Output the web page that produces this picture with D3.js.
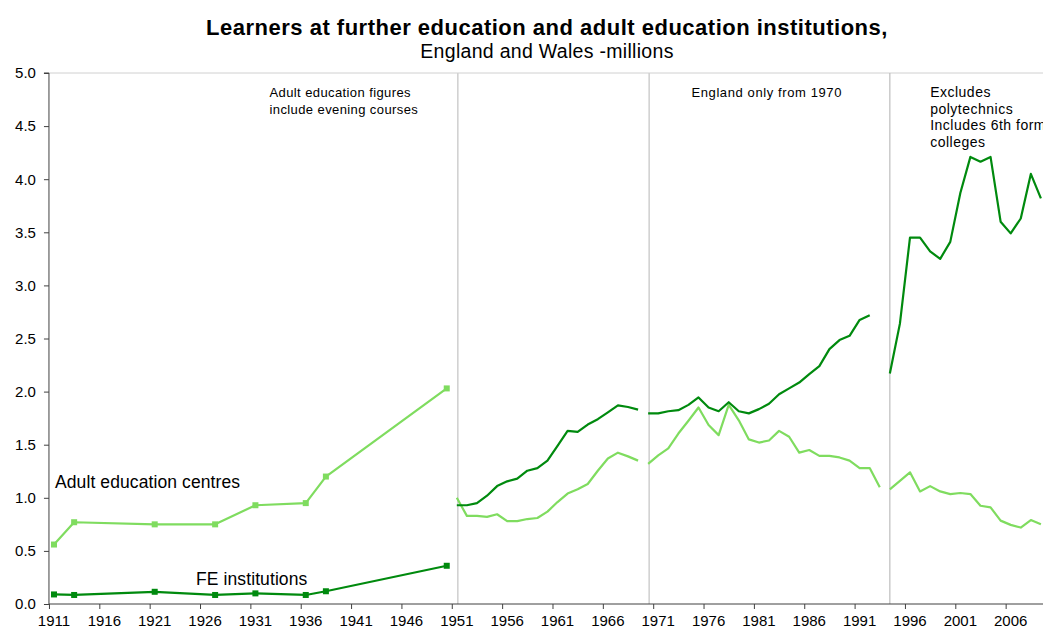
<!DOCTYPE html>
<html>
<head>
<meta charset="utf-8">
<script src="https://cdn.jsdelivr.net/npm/d3@7"></script>
<style>
  body { margin: 0; background: #fff; }
  svg { display: block; font-family: "Liberation Sans", Arial, sans-serif; }
</style>
</head>
<body>
<script>
'use strict';

// segment 1: 1911-1950 (with markers)
const years1 = [1911, 1913, 1921, 1927, 1931, 1936, 1938, 1950];
const adult1 = [0.56, 0.77, 0.75, 0.75, 0.93, 0.95, 1.20, 2.03];
const fe1 = [0.09, 0.085, 0.115, 0.085, 0.10, 0.085, 0.12, 0.36];

// segment 2: 1951-1969
const years2 = [1951, 1952, 1953, 1954, 1955, 1956, 1957, 1958, 1959, 1960,
  1961, 1962, 1963, 1964, 1965, 1966, 1967, 1968, 1969];
const fe2 = [0.93, 0.93, 0.95, 1.02, 1.11, 1.155, 1.18, 1.255, 1.28, 1.35,
  1.49, 1.63, 1.62, 1.69, 1.74, 1.805, 1.87, 1.855, 1.83];
const adult2 = [1.00, 0.83, 0.83, 0.82, 0.845, 0.78, 0.78, 0.80, 0.81, 0.87,
  0.96, 1.04, 1.08, 1.13, 1.255, 1.37, 1.425, 1.39, 1.35];

// segment 3: England only, 1970-1993
const years3 = [1970, 1971, 1972, 1973, 1974, 1975, 1976, 1977, 1978, 1979,
  1980, 1981, 1982, 1983, 1984, 1985, 1986, 1987, 1988, 1989, 1990, 1991, 1992, 1993];
const fe3 = [1.795, 1.795, 1.815, 1.825, 1.875, 1.945, 1.85, 1.815, 1.90, 1.815,
  1.795, 1.835, 1.885, 1.975, 2.03, 2.085, 2.165, 2.24, 2.40, 2.485, 2.525, 2.675, 2.72, null];
const adult3 = [1.32, 1.40, 1.465, 1.605, 1.725, 1.85, 1.685, 1.59, 1.875, 1.73,
  1.55, 1.52, 1.54, 1.63, 1.575, 1.425, 1.45, 1.395, 1.395, 1.38, 1.35, 1.28, 1.28, 1.10];

// segment 4: excludes polytechnics, 1994-2009
const years4 = [1994, 1995, 1996, 1997, 1998, 1999, 2000, 2001, 2002, 2003,
  2004, 2005, 2006, 2007, 2008, 2009];
const fe4 = [2.17, 2.64, 3.45, 3.45, 3.32, 3.25, 3.41, 3.87, 4.21, 4.165,
  4.21, 3.60, 3.49, 3.63, 4.05, 3.82];
const adult4 = [1.08, 1.16, 1.24, 1.06, 1.11, 1.06, 1.035, 1.045, 1.035, 0.925,
  0.91, 0.785, 0.745, 0.72, 0.79, 0.75];

const breakYears = [1951.1, 1970.1, 1994.0];
const labelYears = [1911, 1916, 1921, 1926, 1931, 1936, 1941, 1946, 1951, 1956,
  1961, 1966, 1971, 1976, 1981, 1986, 1991, 1996, 2001, 2006];
const yTicks = [0, 0.5, 1, 1.5, 2, 2.5, 3, 3.5, 4, 4.5, 5];

const darkGreen = '#008a0e';
const lightGreen = '#7fdc5f';

const W = 1043, H = 631;
const svg = d3.select('body').append('svg')
  .attr('width', W)
  .attr('height', H);

// one category per year, labels at category centres
const x = d3.scaleLinear().domain([1911, 2009]).range([54, 1040.9]);
const y = d3.scaleLinear().domain([0, 5]).range([604, 73]);
const left = x(1910.5);

// title
svg.append('text')
  .attr('x', 547).attr('y', 35)
  .attr('text-anchor', 'middle')
  .style('font-size', '22px')
  .style('font-weight', 'bold')
  .style('letter-spacing', '0.5px')
  .text('Learners at further education and adult education institutions,');
svg.append('text')
  .attr('x', 547).attr('y', 58)
  .attr('text-anchor', 'middle')
  .style('font-size', '19.5px')
  .style('letter-spacing', '0.3px')
  .text('England and Wales -millions');

// top border of plot area
svg.append('line')
  .attr('x1', left).attr('x2', W)
  .attr('y1', y(5)).attr('y2', y(5))
  .attr('stroke', '#d0d0d0');

// break lines
svg.selectAll('.brk')
  .data(breakYears)
  .enter().append('line')
  .attr('class', 'brk')
  .attr('x1', d => x(d)).attr('x2', d => x(d))
  .attr('y1', y(5)).attr('y2', y(0))
  .attr('stroke', (d, i) => i < 2 ? '#d2d2d2' : '#bdbdbd')
  .attr('stroke-width', (d, i) => i < 2 ? 1.6 : 1.2);

// y axis
const yAxis = d3.axisLeft(y)
  .tickValues(yTicks)
  .tickFormat(d3.format('.1f'))
  .tickSize(5)
  .tickPadding(8);
const gy = svg.append('g')
  .attr('transform', 'translate(' + left + ',0)')
  .call(yAxis);
gy.selectAll('text').style('font-size', '15px').attr('fill', '#000');
gy.selectAll('line, path').attr('stroke', '#404040');
gy.select('.domain').attr('d', 'M-5,' + y(5) + 'H0V' + y(0));

// x axis: tick marks between categories
const xAxis = d3.axisBottom(x)
  .tickValues(labelYears.map(d => d - 0.5))
  .tickFormat('')
  .tickSize(5);
const gx = svg.append('g')
  .attr('transform', 'translate(0,' + y(0) + ')')
  .call(xAxis);
gx.selectAll('line, path').attr('stroke', '#404040');
gx.select('.domain').attr('d', 'M' + left + ',0H' + (W + 20));

gx.selectAll('.lbl')
  .data(labelYears)
  .enter().append('text')
  .attr('class', 'lbl')
  .attr('x', d => x(d))
  .attr('y', 22)
  .attr('text-anchor', 'middle')
  .attr('fill', '#000')
  .style('font-size', '15px')
  .text(d => d);

// series
const series = [
  {years: years1, values: adult1, color: lightGreen, marks: true},
  {years: years1, values: fe1, color: darkGreen, marks: true},
  {years: years2, values: adult2, color: lightGreen},
  {years: years2, values: fe2, color: darkGreen},
  {years: years3, values: adult3, color: lightGreen},
  {years: years3, values: fe3, color: darkGreen},
  {years: years4, values: adult4, color: lightGreen},
  {years: years4, values: fe4, color: darkGreen}
];

const line = d3.line()
  .defined(d => d[1] != null)
  .x(d => x(d[0]))
  .y(d => y(d[1]));

series.forEach(function(s) {
  let pts = s.years.map((yr, i) => [yr, s.values[i]]);
  svg.append('path')
    .datum(pts)
    .attr('d', line)
    .attr('fill', 'none')
    .attr('stroke', s.color)
    .attr('stroke-width', 2.2)
    .attr('stroke-linejoin', 'round');
  if (s.marks) {
    svg.selectAll(null)
      .data(pts)
      .enter().append('rect')
      .attr('x', d => x(d[0]) - 3)
      .attr('y', d => y(d[1]) - 3)
      .attr('width', 6)
      .attr('height', 6)
      .attr('fill', s.color);
  }
});

// annotations
function note(xv, yv, lines, size, spacing) {
  let t = svg.append('text')
    .attr('x', x(xv))
    .attr('y', y(yv))
    .style('font-size', size + 'px')
    .style('letter-spacing', spacing + 'px')
    .attr('fill', '#000');
  lines.forEach(function(l, i) {
    t.append('tspan')
      .attr('x', x(xv))
      .attr('dy', i === 0 ? 0 : 16.7)
      .text(l);
  });
}
note(1932.4, 4.775, ['Adult education figures', 'include evening courses'], 13, 0.4);
note(1974.3, 4.775, ['England only from 1970'], 13, 0.6);
note(1998.0, 4.775, ['Excludes', 'polytechnics', 'Includes 6th form', 'colleges'], 14, 0.5);
note(1911.1, 1.09, ['Adult education centres'], 17.5, 0.1);
note(1925.1, 0.175, ['FE institutions'], 17.5, 0.1);
</script>
</body>
</html>
